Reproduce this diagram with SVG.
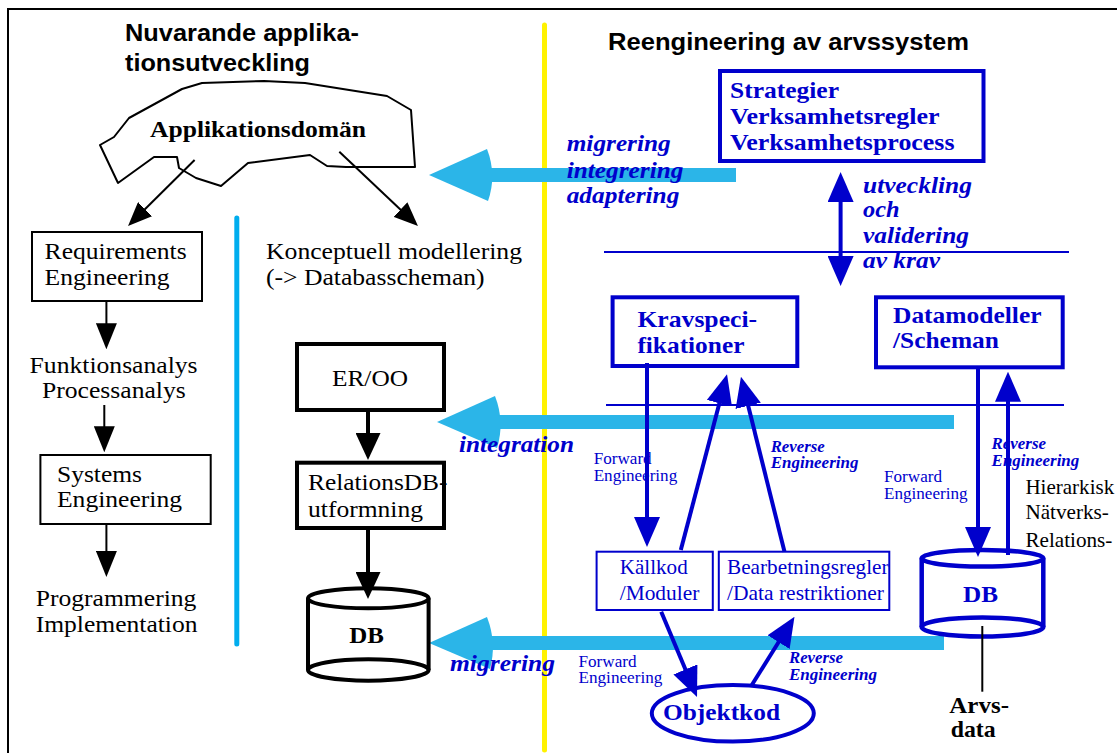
<svg xmlns="http://www.w3.org/2000/svg" width="1117" height="753" viewBox="0 0 1117 753">
<style>
text{font-family:"Liberation Serif","Times New Roman",serif;fill:#000}
.sans{font-family:"Liberation Sans",Arial,sans-serif;font-weight:bold;font-size:23px}
.b{font-weight:bold}
.i{font-style:italic}
.bl{fill:#0000cc}
.t24{font-size:24px}
.t21{font-size:21px}
.t16{font-size:16px}
.kbox{fill:none;stroke:#000;stroke-width:2}
.kbox4{fill:none;stroke:#000;stroke-width:4}
.bbox{fill:none;stroke:#0000cc;stroke-width:4}
.bbox2{fill:none;stroke:#0000cc;stroke-width:2}
.kl{stroke:#000;stroke-width:2;fill:none}
.kl4{stroke:#000;stroke-width:4;fill:none}
.bl4{stroke:#0000cc;stroke-width:4;fill:none}
.bl2{stroke:#0000cc;stroke-width:2;fill:none}
.flow{fill:#2bb5e8}
</style>
<defs>
<marker id="hb" markerUnits="userSpaceOnUse" markerWidth="26" markerHeight="21" refX="20" refY="10.5" orient="auto"><path d="M0,0 L26,10.5 L0,21 Z" fill="#000"/></marker>
<marker id="hbt" markerUnits="userSpaceOnUse" markerWidth="27" markerHeight="25" refX="21" refY="12.5" orient="auto"><path d="M0,0 L27,12.5 L0,25 Z" fill="#000"/></marker>
<marker id="hc" markerUnits="userSpaceOnUse" markerWidth="24" markerHeight="20" refX="18" refY="10" orient="auto"><path d="M0,0 L24,10 L0,20 Z" fill="#000"/></marker>
<marker id="hu" markerUnits="userSpaceOnUse" markerWidth="30" markerHeight="26" refX="24" refY="13" orient="auto-start-reverse"><path d="M0,0 L30,13 L0,26 Z" fill="#0000cc"/></marker>
</defs>

<!-- frame and separators -->
<path d="M8,753 L8,9 L1117,9" fill="none" stroke="#000" stroke-width="2"/>
<line x1="544.5" y1="25" x2="544.5" y2="750" stroke="#fff200" stroke-width="5" stroke-linecap="round"/>
<line x1="236.8" y1="218" x2="236.8" y2="644" stroke="#00adee" stroke-width="5" stroke-linecap="round"/>
<line x1="604" y1="252" x2="1069" y2="252" class="bl2"/>
<line x1="606" y1="405" x2="1064" y2="405" class="bl2"/>

<!-- big light-blue flows -->
<g id="flows">
<path class="flow" d="M429,175 L487,149 Q497,175 488,201 Z"/>
<rect class="flow" x="486" y="168" width="250" height="14"/>
<path class="flow" d="M437,422 L495,396 Q505,422 497,448 Z"/>
<rect class="flow" x="494" y="415" width="460" height="14"/>
<path class="flow" d="M429,643 L487,617 Q497,643 490,669 Z"/>
<rect class="flow" x="487" y="636" width="457" height="14"/>
</g>

<!-- titles -->
<text class="sans" x="125" y="41" textLength="234" lengthAdjust="spacingAndGlyphs">Nuvarande applika-</text>
<text class="sans" x="125" y="71" textLength="185" lengthAdjust="spacingAndGlyphs">tionsutveckling</text>
<text class="sans" x="608" y="50" textLength="361" lengthAdjust="spacingAndGlyphs">Reengineering av arvssystem</text>

<!-- flow labels -->
<g id="flow-labels">
<text class="b i bl t24" x="566.7" y="151" textLength="104" lengthAdjust="spacingAndGlyphs">migrering</text>
<text class="b i bl t24" x="566.7" y="178" textLength="116.7" lengthAdjust="spacingAndGlyphs">integrering</text>
<text class="b i bl t24" x="566.7" y="203" textLength="112.7" lengthAdjust="spacingAndGlyphs">adaptering</text>
<text class="b i bl t24" x="459" y="451.7" textLength="115" lengthAdjust="spacingAndGlyphs">integration</text>
<text class="b i bl t24" x="450" y="671" textLength="105" lengthAdjust="spacingAndGlyphs">migrering</text>
<text class="b i bl t24" x="863" y="193" textLength="109" lengthAdjust="spacingAndGlyphs">utveckling</text>
<text class="b i bl t24" x="863" y="217" textLength="36.5" lengthAdjust="spacingAndGlyphs">och</text>
<text class="b i bl t24" x="863" y="243" textLength="106" lengthAdjust="spacingAndGlyphs">validering</text>
<text class="b i bl t24" x="863" y="268" textLength="77" lengthAdjust="spacingAndGlyphs">av krav</text>
<text class="bl t16" x="593.7" y="464.3" textLength="58" lengthAdjust="spacingAndGlyphs">Forward</text>
<text class="bl t16" x="593.7" y="481" textLength="83.5" lengthAdjust="spacingAndGlyphs">Engineering</text>
<text class="bl t16" x="884" y="481.7" textLength="58" lengthAdjust="spacingAndGlyphs">Forward</text>
<text class="bl t16" x="884" y="499.3" textLength="83.5" lengthAdjust="spacingAndGlyphs">Engineering</text>
<text class="bl t16" x="578.5" y="666.7" textLength="58" lengthAdjust="spacingAndGlyphs">Forward</text>
<text class="bl t16" x="578.5" y="683.3" textLength="83.8" lengthAdjust="spacingAndGlyphs">Engineering</text>
<text class="b i bl t16" x="770.7" y="451.7" textLength="54" lengthAdjust="spacingAndGlyphs">Reverse</text>
<text class="b i bl t16" x="770.7" y="468.3" textLength="87.7" lengthAdjust="spacingAndGlyphs">Engineering</text>
<text class="b i bl t16" x="991.6" y="449" textLength="54.4" lengthAdjust="spacingAndGlyphs">Reverse</text>
<text class="b i bl t16" x="991.6" y="465.7" textLength="87.7" lengthAdjust="spacingAndGlyphs">Engineering</text>
<text class="b i bl t16" x="789" y="662.7" textLength="54" lengthAdjust="spacingAndGlyphs">Reverse</text>
<text class="b i bl t16" x="789" y="680" textLength="88" lengthAdjust="spacingAndGlyphs">Engineering</text>
<text class="t21" x="1025.4" y="494.3" textLength="88.8" lengthAdjust="spacingAndGlyphs">Hierarkisk</text>
<text class="t21" x="1025.4" y="519.3" textLength="83.5" lengthAdjust="spacingAndGlyphs">Nätverks-</text>
<text class="t21" x="1025.4" y="546.7" textLength="87" lengthAdjust="spacingAndGlyphs">Relations-</text>
</g>

<!-- left side nodes -->
<g id="applikationsdoman">
<path d="M100,145 L114,137 L129,118 L182,89 L202,83 L264,81 L305,83 L387,96 L411,110 L415,167 L346,167 L327,166 L310,155 L248,163 L221,186 L196,178 L179,168 L177,157 L154,157 L118,183 Z" fill="none" stroke="#000" stroke-width="2" stroke-linejoin="round"/>
<text class="b t24" x="150" y="137" textLength="216" lengthAdjust="spacingAndGlyphs">Applikationsdomän</text>
</g>
<g id="requirements">
<rect class="kbox" x="32" y="232" width="170" height="69"/>
<text class="t24" x="44.6" y="259.3" textLength="142" lengthAdjust="spacingAndGlyphs">Requirements</text>
<text class="t24" x="44.6" y="285" textLength="125" lengthAdjust="spacingAndGlyphs">Engineering</text>
</g>
<g id="funktionsanalys">
<text class="t24" x="29.6" y="372.7" textLength="168" lengthAdjust="spacingAndGlyphs">Funktionsanalys</text>
<text class="t24" x="42" y="398.3" textLength="143.7" lengthAdjust="spacingAndGlyphs">Processanalys</text>
</g>
<g id="systems">
<rect class="kbox" x="40.4" y="455" width="170.3" height="69"/>
<text class="t24" x="57" y="481.7" textLength="85" lengthAdjust="spacingAndGlyphs">Systems</text>
<text class="t24" x="57" y="507.3" textLength="125" lengthAdjust="spacingAndGlyphs">Engineering</text>
</g>
<g id="programmering">
<text class="t24" x="35.7" y="606" textLength="160.7" lengthAdjust="spacingAndGlyphs">Programmering</text>
<text class="t24" x="35.7" y="631.7" textLength="161.8" lengthAdjust="spacingAndGlyphs">Implementation</text>
</g>
<g id="konceptuell">
<text class="t24" x="266" y="259" textLength="256" lengthAdjust="spacingAndGlyphs">Konceptuell modellering</text>
<text class="t24" x="266" y="285" textLength="218.6" lengthAdjust="spacingAndGlyphs">(-&gt; Databasscheman)</text>
</g>
<g id="eroo">
<rect class="kbox4" x="297" y="344" width="147" height="66"/>
<text class="t24" x="332" y="385.7" textLength="76" lengthAdjust="spacingAndGlyphs">ER/OO</text>
</g>
<g id="relationsdb">
<rect class="kbox4" x="297" y="462.7" width="147" height="65.3"/>
<text class="t24" x="308" y="490" textLength="139.5" lengthAdjust="spacingAndGlyphs">RelationsDB-</text>
<text class="t24" x="308" y="516.7" textLength="115" lengthAdjust="spacingAndGlyphs">utformning</text>
</g>
<g id="db-left">
<path class="kl4" d="M308,598.3 L308,670 M428.6,598.3 L428.6,670"/>
<ellipse class="kl4" cx="368.3" cy="598.3" rx="60.3" ry="10"/>
<ellipse class="kl4" cx="368.3" cy="670" rx="60.3" ry="10.7"/>
<text class="b t24" x="349.3" y="643.3" textLength="34.6" lengthAdjust="spacingAndGlyphs">DB</text>
</g>

<!-- right side nodes -->
<g id="strategier">
<rect class="bbox" x="720" y="71" width="263.5" height="90"/>
<text class="b bl t24" x="730" y="98" textLength="109" lengthAdjust="spacingAndGlyphs">Strategier</text>
<text class="b bl t24" x="730" y="124" textLength="209.6" lengthAdjust="spacingAndGlyphs">Verksamhetsregler</text>
<text class="b bl t24" x="730" y="149.5" textLength="224.5" lengthAdjust="spacingAndGlyphs">Verksamhetsprocess</text>
</g>
<g id="kravspecifikationer">
<rect class="bbox" x="612.6" y="297.3" width="184.7" height="68.7"/>
<text class="b bl t24" x="637.4" y="326.7" textLength="119.7" lengthAdjust="spacingAndGlyphs">Kravspeci-</text>
<text class="b bl t24" x="637.4" y="352.7" textLength="107" lengthAdjust="spacingAndGlyphs">fikationer</text>
</g>
<g id="datamodeller">
<rect class="bbox" x="876" y="297.3" width="186.7" height="70"/>
<text class="b bl t24" x="893" y="322.7" textLength="148.5" lengthAdjust="spacingAndGlyphs">Datamodeller</text>
<text class="b bl t24" x="893" y="348.3" textLength="105.9" lengthAdjust="spacingAndGlyphs">/Scheman</text>
</g>
<g id="kallkod">
<rect class="bbox2" x="596.6" y="551.7" width="116.2" height="58.3"/>
<text class="bl t21" x="619.7" y="574.3" textLength="68" lengthAdjust="spacingAndGlyphs">Källkod</text>
<text class="bl t21" x="619.7" y="600" textLength="79.6" lengthAdjust="spacingAndGlyphs">/Moduler</text>
</g>
<g id="bearbetningsregler">
<rect class="bbox2" x="718.8" y="551.7" width="170.5" height="58.3"/>
<text class="bl t21" x="727" y="574.3" textLength="161.6" lengthAdjust="spacingAndGlyphs">Bearbetningsregler</text>
<text class="bl t21" x="727" y="600" textLength="157" lengthAdjust="spacingAndGlyphs">/Data restriktioner</text>
</g>
<g id="objektkod">
<ellipse class="bl4" cx="732.8" cy="713.3" rx="81" ry="28.3"/>
<text class="b bl t24" x="663" y="720" textLength="117" lengthAdjust="spacingAndGlyphs">Objektkod</text>
</g>
<g id="db-right">
<path d="M921.7,558.3 L921.7,627 M1043.3,558.3 L1043.3,627" stroke="#0000cc" stroke-width="4.5" fill="none"/>
<ellipse cx="982.5" cy="558.3" rx="60.8" ry="8.3" stroke="#0000cc" stroke-width="4.5" fill="none"/>
<ellipse cx="982.5" cy="627" rx="60.8" ry="9.5" stroke="#0000cc" stroke-width="4.5" fill="none"/>
<text class="b bl t24" x="963" y="601.7" textLength="35" lengthAdjust="spacingAndGlyphs">DB</text>
</g>
<g id="arvsdata">
<text class="b t24" x="949.3" y="712.7" textLength="59.7" lengthAdjust="spacingAndGlyphs">Arvs-</text>
<text class="b t24" x="950.7" y="736.7" textLength="45" lengthAdjust="spacingAndGlyphs">data</text>
</g>

<!-- connectors -->
<g id="connectors">
<line class="kl" x1="194.6" y1="160" x2="132.3" y2="221.8" stroke-width="1.5" marker-end="url(#hc)"/>
<line class="kl" x1="339.3" y1="151.7" x2="413.6" y2="221.9" stroke-width="1.5" marker-end="url(#hc)"/>
<line class="kl" x1="106.4" y1="300.7" x2="106.4" y2="343.3" marker-end="url(#hb)"/>
<line class="kl" x1="104.3" y1="405" x2="104.3" y2="446.3" marker-end="url(#hb)"/>
<line class="kl" x1="106.4" y1="524" x2="106.4" y2="571" marker-end="url(#hb)"/>
<line class="kl4" x1="368" y1="410" x2="368" y2="454" marker-end="url(#hbt)"/>
<line class="kl4" x1="368" y1="528" x2="368" y2="593" marker-end="url(#hbt)"/>
<line class="bl4" x1="840.6" y1="178" x2="840.6" y2="280" marker-start="url(#hu)" marker-end="url(#hu)"/>
<line class="bl4" x1="647" y1="363" x2="647" y2="541" marker-end="url(#hu)"/>
<line class="bl4" x1="680.8" y1="550" x2="725.5" y2="380.1" marker-end="url(#hu)"/>
<line class="bl4" x1="784.5" y1="551.7" x2="742.4" y2="382.5" marker-end="url(#hu)"/>
<line class="bl4" x1="978" y1="367" x2="978" y2="551" marker-end="url(#hu)"/>
<line class="bl4" x1="1008" y1="555" x2="1008" y2="377.7" marker-end="url(#hu)"/>
<line class="bl4" x1="661.2" y1="611.7" x2="694.7" y2="691.5" marker-end="url(#hu)"/>
<line class="bl4" x1="751.8" y1="685" x2="791.3" y2="621.8" marker-end="url(#hu)"/>
<line class="kl" x1="982.3" y1="626" x2="982.3" y2="691.7"/>
</g>
</svg>
